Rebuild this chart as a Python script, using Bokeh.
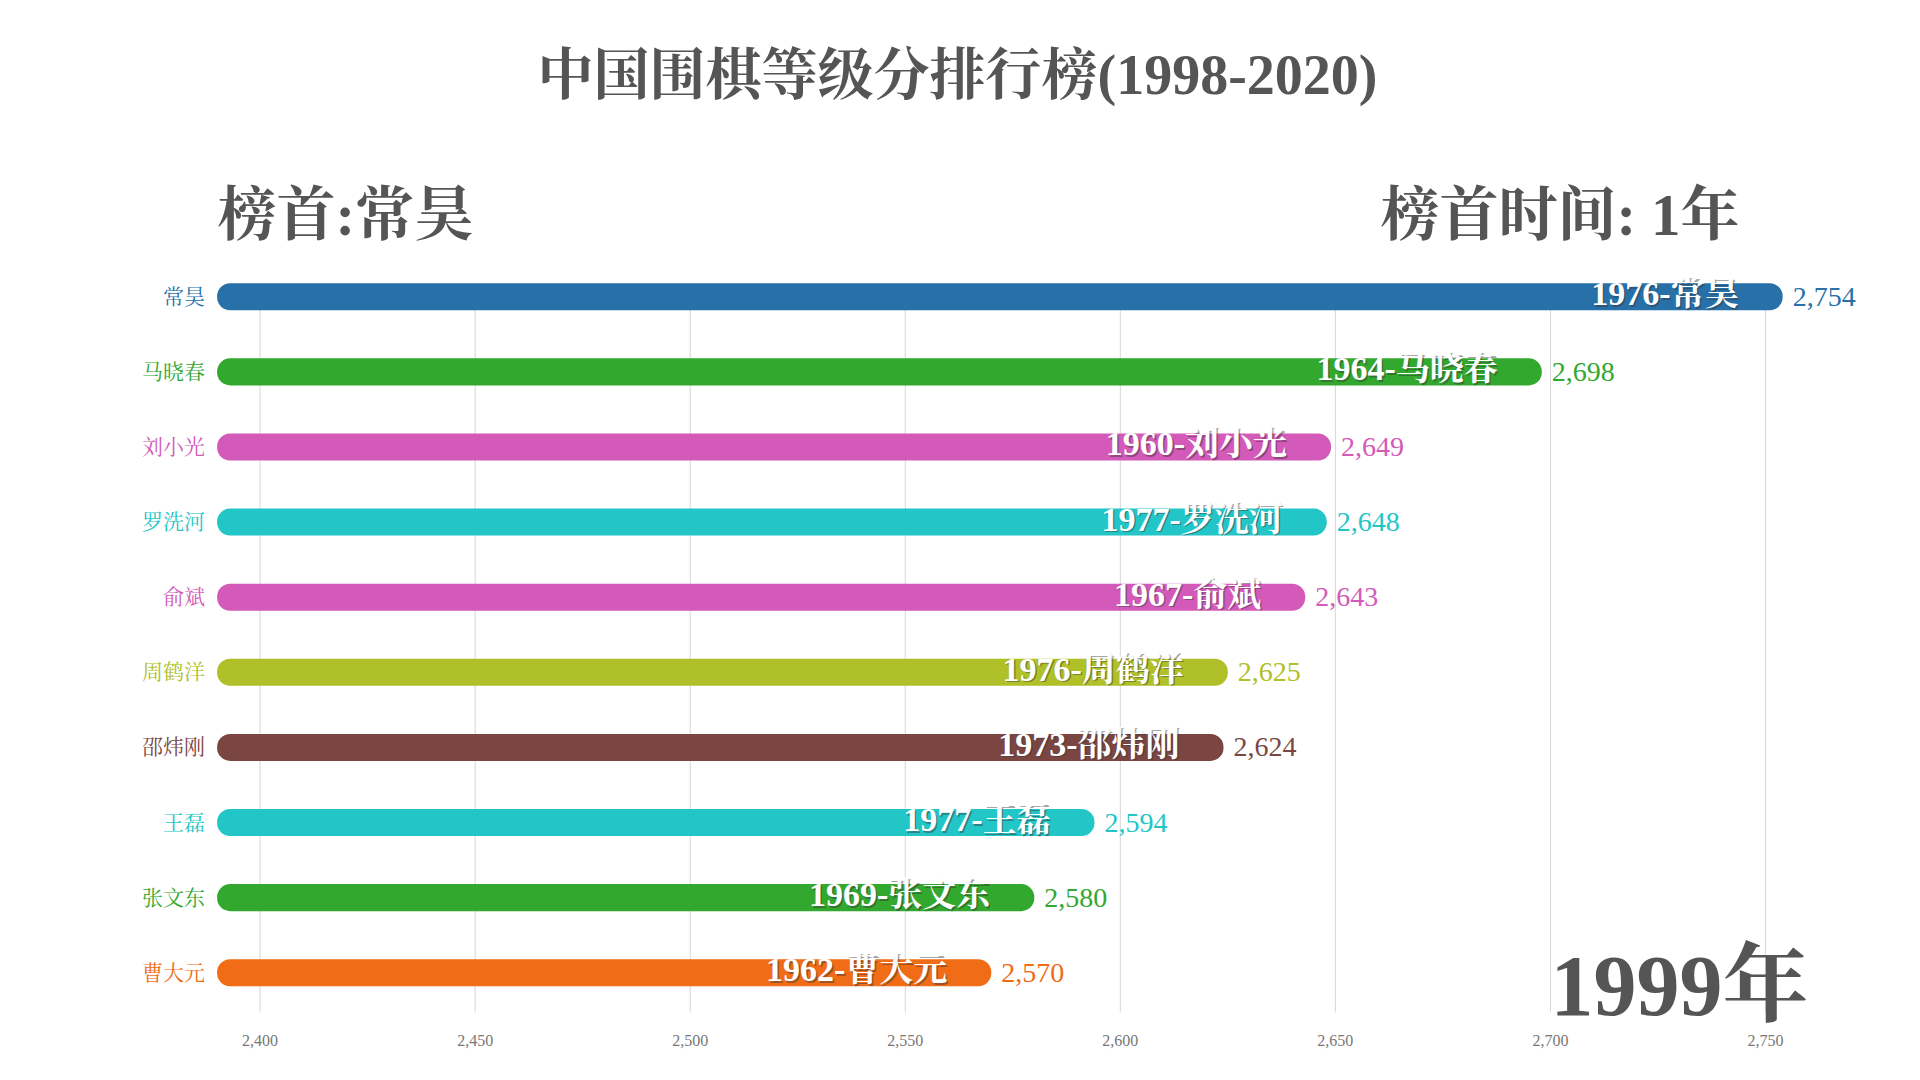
from bokeh.plotting import figure
from bokeh.models import ColumnDataSource, Range1d, Label
from bokeh.core.properties import value
from bokeh.embed import file_html
from bokeh.resources import INLINE

# ---- data ----
names = ["常昊", "马晓春", "刘小光", "罗洗河", "俞斌", "周鹤洋", "邵炜刚", "王磊", "张文东", "曹大元"]
births = [1976, 1964, 1960, 1977, 1967, 1976, 1973, 1977, 1969, 1962]
ratings = [2754, 2698, 2649, 2648, 2643, 2625, 2624, 2594, 2580, 2570]
colors = ["#2870A8", "#33A82F", "#D35AB8", "#22C6C6", "#D35AB8",
          "#B0C029", "#7B4642", "#22C6C6", "#33A82F", "#F06C17"]
tick_values = [2400, 2450, 2500, 2550, 2600, 2650, 2700, 2750]
axis_min = 2390
title_text = "中国围棋等级分排行榜(1998-2020)"
leader = "常昊"
leader_years = 1
year_text = "1999年"

SERIF = "Liberation Serif, 'Noto Serif CJK SC', 'Noto Sans CJK SC', serif"

# frame covers the whole figure; y axis is rank (0 = top)
Y_TOP, Y_BOTTOM = -3.945, 10.435
GRID_END = 9.530
TICK_LABEL_Y = 9.903

ranks = list(range(len(names)))
src = ColumnDataSource(dict(
    y=ranks,
    left=[axis_min] * len(names),
    right=ratings,
    color=colors,
    name=names,
    inbar=[f"{b}-{n}" for b, n in zip(births, names)],
    vlabel=[f"{v:,}" for v in ratings],
))
tick_src = ColumnDataSource(dict(
    x=tick_values,
    y0=[0] * len(tick_values),
    y1=[GRID_END] * len(tick_values),
    ylab=[TICK_LABEL_Y] * len(tick_values),
    lab=[f"{t:,}" for t in tick_values],
))

p = figure(width=1920, height=1080, output_backend="svg", toolbar_location=None,
           x_range=Range1d(2339.64, 2786.05), y_range=Range1d(Y_BOTTOM, Y_TOP),
           min_border=0, x_axis_location=None, y_axis_location=None)
p.outline_line_color = None
p.background_fill_color = "white"
p.border_fill_color = "white"
p.xgrid.visible = False
p.ygrid.visible = False

# gridlines and tick labels
p.segment(x0="x", x1="x", y0="y0", y1="y1", source=tick_src,
          line_color="#d6d6d6", line_width=1)
p.text(x="x", y="ylab", text="lab", source=tick_src, text_align="center",
       text_baseline="middle", text_color="#777777", text_font=value(SERIF),
       text_font_size="16px")

# bars
p.hbar(y="y", left="left", right="right", height=0.36, source=src,
       fill_color="color", line_color=None, border_radius=13)

# category labels
p.text(x="left", y="y", text="name", source=src, x_offset=-12,
       text_align="right", text_baseline="middle", text_color="color",
       text_font=value(SERIF), text_font_size="21px")

# in-bar labels (soft dark shadow + white text)
p.text(x="right", y="y", text="inbar", source=src, x_offset=-42.5, y_offset=-1.5,
       text_align="right", text_baseline="middle", text_color="#333333",
       text_alpha=0.45, text_font=value(SERIF), text_font_size="34px",
       text_font_style="bold")
p.text(x="right", y="y", text="inbar", source=src, x_offset=-44, y_offset=-3,
       text_align="right", text_baseline="middle", text_color="white",
       text_font=value(SERIF), text_font_size="34px", text_font_style="bold")

# value labels
p.text(x="right", y="y", text="vlabel", source=src, x_offset=10,
       text_align="left", text_baseline="middle", text_color="color",
       text_font=value(SERIF), text_font_size="28px")

# header texts (screen units: from bottom-left of the figure)
p.add_layout(Label(x=957, y=1006, x_units="screen", y_units="screen", text=title_text,
                   text_align="center", text_baseline="middle", text_font=SERIF,
                   text_font_size="56px", text_font_style="bold", text_color="#555555"))
p.add_layout(Label(x=217, y=866, x_units="screen", y_units="screen", text=f"榜首:{leader}",
                   text_align="left", text_baseline="middle", text_font=SERIF,
                   text_font_size="59px", text_font_style="bold", text_color="#555555"))
p.add_layout(Label(x=1739, y=866, x_units="screen", y_units="screen",
                   text=f"榜首时间: {leader_years}年",
                   text_align="right", text_baseline="middle", text_font=SERIF,
                   text_font_size="59px", text_font_style="bold", text_color="#555555"))
p.add_layout(Label(x=1808, y=95, x_units="screen", y_units="screen", text=year_text,
                   text_align="right", text_baseline="alphabetic", text_font=SERIF,
                   text_font_size="86px", text_font_style="bold", text_color="#555555"))

open("out.html", "w").write(file_html(p, INLINE))
